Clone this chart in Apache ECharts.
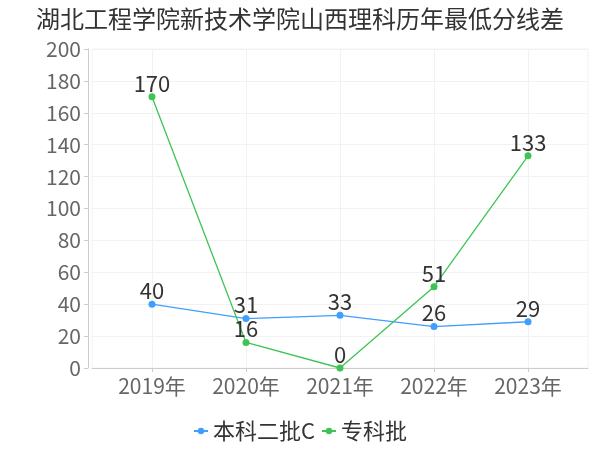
<!DOCTYPE html>
<html>
<head>
<meta charset="utf-8">
<script src="https://cdn.jsdelivr.net/npm/echarts@6/dist/echarts.min.js"></script>
<style>
  html, body { margin: 0; padding: 0; background: #fff; }
  #chart { width: 600px; height: 450px; }
</style>
</head>
<body>
<div id="chart"></div>
<script>
// data
const years = ['2019年', '2020年', '2021年', '2022年', '2023年'];
const benkeC = [40, 31, 33, 26, 29];
const zhuanke = [170, 16, 0, 51, 133];
const yTicks = [0, 20, 40, 60, 80, 100, 120, 140, 160, 180, 200];

const chart = echarts.init(document.getElementById('chart'));
const font = '"Noto Sans CJK SC", "Noto Sans", sans-serif';
const idx = years.map((_, i) => i);

// pair each value with its category index on the x scale
const toPoints = vals => vals.map((v, i) => [i, v]);

const dataLabel = {
  show: true,
  position: 'top',
  distance: -1,
  fontSize: 22,
  color: '#333',
  fontFamily: font,
  formatter: p => p.value[1]
};

const options = {
  textStyle: { fontFamily: font },
  title: {
    text: '湖北工程学院新技术学院山西理科历年最低分线差',
    left: 'center',
    top: 2,
    textStyle: { fontSize: 24, fontWeight: 'normal', color: '#333', fontFamily: font }
  },
  legend: {
    bottom: 3,
    left: 'center',
    itemWidth: 14,
    itemHeight: 8,
    itemGap: 6,
    textStyle: { fontSize: 22, color: '#333', fontFamily: font },
    data: ['本科二批C', '专科批']
  },
  grid: {
    left: 92,
    right: 12,
    top: 49,
    bottom: 82,
    show: true,
    borderColor: '#f2f2f2',
    borderWidth: 1
  },
  xAxis: {
    type: 'value',
    min: -0.638,
    max: 4.638,
    axisLine: { onZero: false, lineStyle: { color: '#ccc' } },
    axisTick: { show: true, length: 4, lineStyle: { color: '#ccc' }, customValues: idx },
    axisLabel: {
      customValues: idx,
      fontSize: 21,
      color: '#666',
      margin: 8,
      fontFamily: font,
      formatter: v => years[Math.round(v)]
    },
    splitLine: { show: true, lineStyle: { color: '#f2f2f2' } }
  },
  yAxis: {
    type: 'value',
    min: yTicks[0],
    max: yTicks[yTicks.length - 1],
    interval: yTicks[1] - yTicks[0],
    offset: 4,
    axisLine: { show: true, onZero: false, lineStyle: { color: '#ccc' } },
    axisTick: { show: true, length: 4, lineStyle: { color: '#ccc' } },
    axisLabel: { fontSize: 21, color: '#666', margin: 7, fontFamily: font },
    splitLine: { show: true, lineStyle: { color: '#f2f2f2' } }
  },
  series: [
    {
      name: '本科二批C',
      type: 'line',
      data: toPoints(benkeC),
      symbol: 'circle',
      symbolSize: 7,
      color: '#409eff',
      lineStyle: { width: 1.3 },
      label: dataLabel
    },
    {
      name: '专科批',
      type: 'line',
      data: toPoints(zhuanke),
      symbol: 'circle',
      symbolSize: 7,
      color: '#3ec456',
      lineStyle: { width: 1.3 },
      label: dataLabel
    }
  ]
};

chart.setOption(options);
</script>
</body>
</html>
